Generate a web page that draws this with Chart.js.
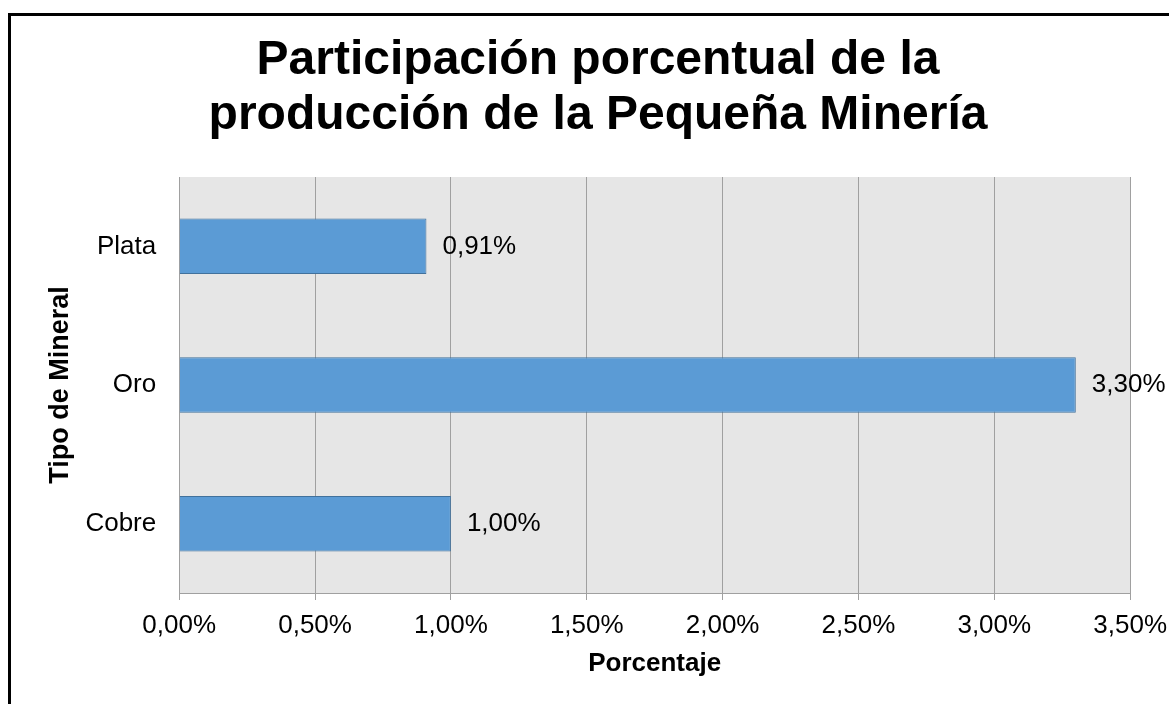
<!DOCTYPE html>
<html>
<head>
<meta charset="utf-8">
<script src="https://cdn.jsdelivr.net/npm/chart.js@4"></script>
<style>
    html, body { margin: 0; padding: 0; background: #fff; overflow: hidden; }
    #wrap { position: absolute; left: 0; top: 0; width: 1180px; height: 704px; }
    #frame {
        position: absolute; left: 8px; top: 13px; width: 1300px; height: 800px;
        border-left: 3px solid #000; border-top: 3px solid #000;
        pointer-events: none;
    }
</style>
</head>
<body>
<div id="wrap"><canvas id="myChart"></canvas></div>
<div id="frame"></div>
<script>
// categories from top to bottom, as in the picture
const minerals = ['Plata', 'Oro', 'Cobre'];
const shares = [0.91, 3.30, 1.00];
const xTickValues = [0, 0.5, 1, 1.5, 2, 2.5, 3, 3.5];

function pct(v) {
    return v.toFixed(2).replace('.', ',') + '%';
}

const plotBackground = {
    id: 'plotBackground',
    beforeDraw: function (chart) {
        const a = chart.chartArea;
        const ctx = chart.ctx;
        ctx.save();
        ctx.fillStyle = '#e6e6e6';
        ctx.fillRect(a.left, a.top, a.right - a.left, a.bottom - a.top);
        ctx.restore();
    }
};

const valueLabels = {
    id: 'valueLabels',
    afterDatasetsDraw: function (chart) {
        const ctx = chart.ctx;
        const meta = chart.getDatasetMeta(0);
        ctx.save();
        ctx.font = '26px "Liberation Sans", Arial, sans-serif';
        ctx.fillStyle = '#000';
        ctx.textAlign = 'left';
        ctx.textBaseline = 'middle';
        meta.data.forEach(function (bar, i) {
            ctx.fillText(pct(shares[i]), bar.x + 16, bar.y);
        });
        ctx.restore();
    }
};

document.addEventListener('DOMContentLoaded', function () {
    const ctx = document.getElementById('myChart').getContext('2d');
    Chart.defaults.font.family = '"Liberation Sans", Arial, sans-serif';
    Chart.defaults.color = '#000';

    new Chart(ctx, {
        type: 'bar',
        data: {
            labels: minerals,
            datasets: [{
                data: shares,
                backgroundColor: '#5b9bd5',
                borderColor: '#41719c',
                borderWidth: 1,
                barPercentage: 0.4,
                categoryPercentage: 1
            }]
        },
        options: {
            indexAxis: 'y',
            responsive: true,
            maintainAspectRatio: false,
            animation: false,
            layout: { padding: { left: 20, right: 4, top: 0, bottom: 10 } },
            scales: {
                x: {
                    min: 0,
                    max: 3.5,
                    afterBuildTicks: function (scale) {
                        scale.ticks = xTickValues.map(function (v) { return { value: v }; });
                    },
                    ticks: {
                        font: { size: 26, lineHeight: 1 },
                        padding: 13,
                        maxRotation: 0,
                        callback: function (v) { return pct(v); }
                    },
                    grid: { color: '#a0a0a0', tickLength: 7, lineWidth: 1 },
                    border: { color: '#a0a0a0' },
                    title: {
                        display: true,
                        text: 'Porcentaje',
                        font: { size: 26, weight: 'bold', lineHeight: 1 },
                        padding: { top: -1, bottom: 17 }
                    }
                },
                y: {
                    ticks: { font: { size: 26 }, padding: 0 },
                    grid: { display: false, drawTicks: true, tickLength: 23 },
                    border: { color: '#a0a0a0' },
                    title: {
                        display: true,
                        text: 'Tipo de Mineral',
                        font: { size: 27, weight: 'bold' },
                        padding: { top: 24, bottom: 9 }
                    }
                }
            },
            plugins: {
                legend: { display: false },
                tooltip: { enabled: false },
                title: {
                    display: true,
                    text: ['Participación porcentual de la', 'producción de la Pequeña Minería'],
                    font: { size: 48, weight: 'bold', lineHeight: 1.146 },
                    color: '#000',
                    padding: { top: 33, bottom: 34 }
                }
            }
        },
        plugins: [plotBackground, valueLabels]
    });
});
</script>
</body>
</html>
